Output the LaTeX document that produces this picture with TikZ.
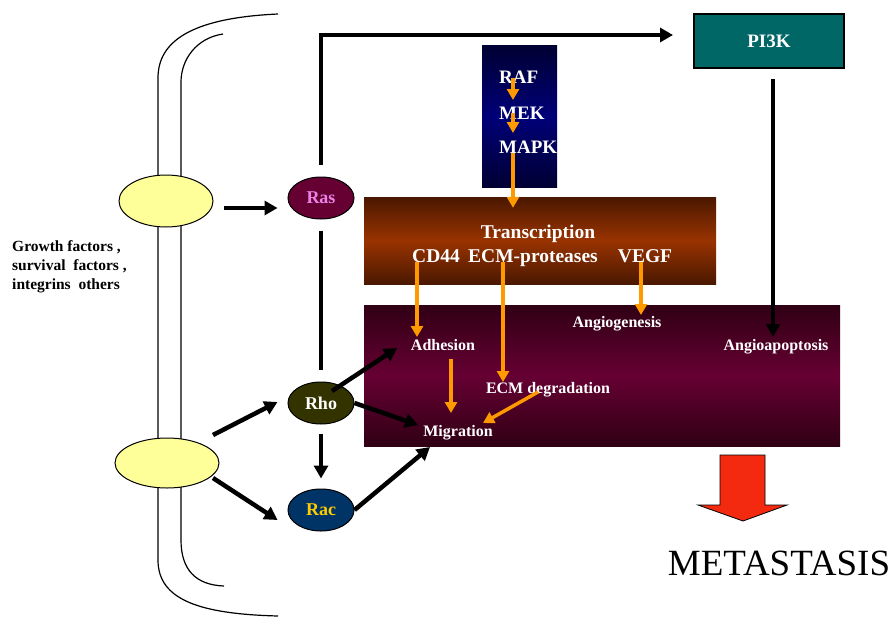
\documentclass[tikz,border=0pt]{standalone}
\usepackage{fontspec}
\setmainfont{Liberation Serif}
\usetikzlibrary{shapes,arrows.meta}
\definecolor{lightyel}{HTML}{FFFF99}
\definecolor{rasfill}{HTML}{660033}
\definecolor{raspink}{RGB}{236,130,230}
\definecolor{rhofill}{HTML}{333300}
\definecolor{racfill}{HTML}{003366}
\definecolor{racgold}{HTML}{FFCC00}
\definecolor{teal4}{HTML}{006666}
\definecolor{orng}{HTML}{FF9900}
\definecolor{navyA}{HTML}{000033}
\definecolor{navyB}{HTML}{000078}
\definecolor{brownA}{HTML}{4A1800}
\definecolor{brownB}{HTML}{993300}
\definecolor{plumA}{HTML}{300014}
\definecolor{plumB}{HTML}{660033}
\definecolor{metred}{HTML}{F32A10}

\begin{document}
\begin{tikzpicture}[x=1pt,y=-1pt]
      \tikzstyle{recep}=[ellipse,draw,line width=1pt,fill=lightyel,minimum width=94pt,minimum height=52pt]
      \tikzstyle{gtp}=[ellipse,draw,line width=1pt,minimum width=66pt,minimum height=42pt,inner sep=0pt,font=\fontsize{18}{20}\selectfont\bfseries]
      \tikzstyle{panel}=[rectangle,inner sep=0pt]
      \tikzstyle{wtxt}=[text=white,inner sep=0pt,anchor=base,font=\fontsize{16}{18}\selectfont\bfseries]
      \tikzstyle{ttxt}=[text=white,inner sep=0pt,anchor=base,font=\fontsize{19.5}{21}\selectfont\bfseries]
      \tikzstyle{ktxt}=[text=white,inner sep=0pt,anchor=base west,font=\fontsize{19}{21}\selectfont\bfseries]
      \tikzstyle{blk}=[line width=4.5pt,-{Triangle[length=13pt,width=14pt]}]
      \tikzstyle{org}=[draw=orng,line width=3.5pt,-{Triangle[length=11pt,width=12pt]}]
      \useasboundingbox (0,0) rectangle (890,618);
      % membrane
      \draw[line width=1.2pt] (278,14) .. controls (190,18) and (158,42) .. (158,78) -- (158,560) .. controls (158,600) and (200,614) .. (278,616);
      \draw[line width=1.2pt] (223,34) .. controls (196,38) and (181,60) .. (181,82) -- (181,540) .. controls (181,570) and (196,585) .. (224,586);
      % panels
      \node[panel,minimum width=75pt,minimum height=141pt,top color=navyA,bottom color=navyA,middle color=navyB] (kbox) at (519.5,116.5) {};
      \node[panel,minimum width=352pt,minimum height=87pt,top color=brownA,bottom color=brownA,middle color=brownB] (trbox) at (540,240.5) {};
      \node[panel,minimum width=476pt,minimum height=141pt,top color=plumA,bottom color=plumA,middle color=plumB] (effbox) at (602,375.5) {};
      \node[panel,draw,line width=2pt,fill=teal4,minimum width=150pt,minimum height=54pt,text=white,font=\fontsize{19}{21}\selectfont\bfseries] (pi3k) at (769,41) {PI3K};
      % receptors and GTPases
      \node[recep] (rec1) at (166,201) {};
      \node[recep,minimum width=104pt,minimum height=50pt] (rec2) at (167,463) {};
      \node[gtp,fill=rasfill,text=raspink] (ras) at (321,198) {Ras};
      \node[gtp,fill=rhofill,text=white] (rho) at (321,403) {Rho};
      \node[gtp,fill=racfill,text=racgold] (rac) at (321,510) {Rac};
      \node[anchor=north west,align=left,inner sep=0pt,font=\fontsize{15.5}{19}\selectfont\bfseries] (gf) at (12,240) {Growth factors ,\\survival\ \ factors ,\\integrins\ \ others};
      % kinase cascade
      \node[ktxt] (raf) at (499,83) {RAF};
      \node[ktxt] (mek) at (499,119) {MEK};
      \node[ktxt] (mapk) at (499,153) {MAPK};
      % transcription
      \node[ttxt] (tr) at (538,238) {Transcription};
      \node[ttxt] (cd44) at (436,262) {CD44};
      \node[ttxt] (ecm) at (533,262) {ECM-proteases};
      \node[ttxt] (vegf) at (645,262) {VEGF};
      % effects
      \node[wtxt] (ang) at (617,327) {Angiogenesis};
      \node[wtxt] (adh) at (443,350) {Adhesion};
      \node[wtxt] (apo) at (776,350) {Angioapoptosis};
      \node[wtxt] (deg) at (548,393) {ECM degradation};
      \node[wtxt] (mig) at (458,436) {Migration};
      % orange arrows
      \draw[org] ([xshift=14pt,yshift=5pt]raf.base west) -- ([xshift=14pt,yshift=19pt]mek.base west);
      \draw[org] ([xshift=14pt,yshift=6pt]mek.base west) -- ([xshift=14pt,yshift=20pt]mapk.base west);
      \draw[org] ([xshift=14pt]mapk.base west) -- ([xshift=14pt,yshift=-11pt]mapk.base west |- trbox.north);
      \draw[org] ([xshift=-19pt]cd44.base) -- ([xshift=-26pt,yshift=13pt]adh.base);
      \draw[org] ([xshift=-30pt]ecm.base) -- ([xshift=-45pt,yshift=11pt]deg.base);
      \draw[org] ([xshift=-4pt]vegf.base) -- ([xshift=24pt,yshift=12pt]ang.base);
      \draw[org] ([xshift=8pt,yshift=-9pt]adh.base) -- ([xshift=-7pt,yshift=23pt]mig.base);
      \draw[org] ([xshift=-10pt,yshift=1pt]deg.base) -- ([xshift=25pt,yshift=13pt]mig.base);
      % black arrows
      \draw[blk] ([xshift=10pt,yshift=-7pt]rec1.east) -- ([xshift=-10pt,yshift=-10pt]ras.west);
      \draw[blk,line width=4pt] ([yshift=12pt]ras.north) |- ([xshift=-20pt,yshift=6pt]pi3k.west);
      \draw[line width=4pt] ([yshift=-11pt]ras.south) -- ([yshift=12pt]rho.north);
      \draw[blk] ([yshift=-9pt]rho.south) -- ([yshift=10pt]rac.north);
      \draw[blk] ([xshift=46pt,yshift=28pt]rec2.center) -- ([xshift=-10pt,yshift=1pt]rho.west);
      \draw[blk] ([xshift=46pt,yshift=-15pt]rec2.center) -- ([xshift=-10pt,yshift=-10pt]rac.west);
      \draw[blk] ([xshift=11pt,yshift=12pt]rho.center) -- ([xshift=-46pt,yshift=2pt]adh.base);
      \draw[blk] (rho.east) -- ([xshift=-40pt,yshift=11pt]mig.base);
      \draw[blk] (rac.east) -- ([xshift=-28pt,yshift=-11pt]mig.base);
      \draw[blk,line width=4pt] ([xshift=4pt,yshift=-10pt]pi3k.south) -- ([xshift=4pt,yshift=13pt]pi3k.south |- apo.base);
      % outcome
      \draw[fill=metred,line width=0.8pt] (720,455) -- (765,455) -- (765,505) -- (787,505) -- (743,521) -- (698,505) -- (720,505) -- cycle;
      \node[anchor=base,inner sep=0pt,font=\fontsize{37}{40}\selectfont] (meta) at (779,575) {METASTASIS};
\end{tikzpicture}
\end{document}
